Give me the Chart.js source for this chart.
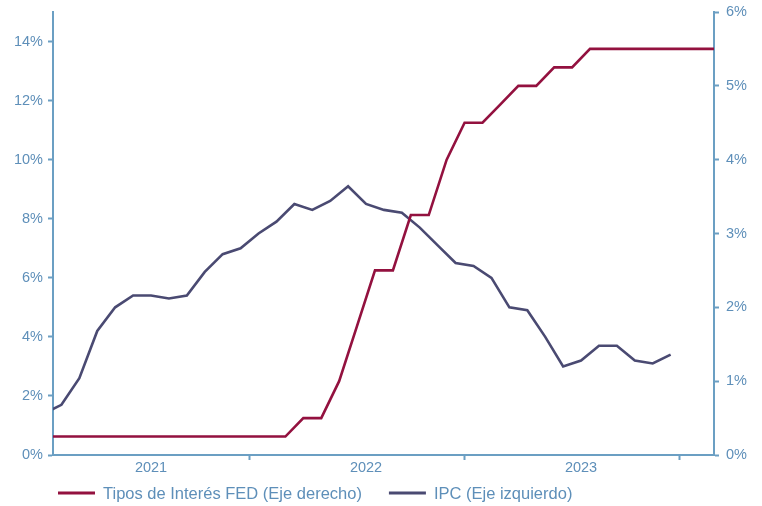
<!DOCTYPE html>
<html>
<head>
<meta charset="utf-8">
<script src="https://cdn.jsdelivr.net/npm/chart.js@4.4.1/dist/chart.umd.min.js"></script>
<style>
html,body{margin:0;padding:0;background:#ffffff;}
#wrap{width:762px;height:506px;position:relative;}
</style>
</head>
<body>
<div id="wrap"><canvas id="c" width="762" height="506"></canvas></div>
<script>
// ---- Data (monthly, Jan 2021 onward) ----
const months = [
  '2021-01','2021-02','2021-03','2021-04','2021-05','2021-06','2021-07','2021-08','2021-09','2021-10','2021-11','2021-12',
  '2022-01','2022-02','2022-03','2022-04','2022-05','2022-06','2022-07','2022-08','2022-09','2022-10','2022-11','2022-12',
  '2023-01','2023-02','2023-03','2023-04','2023-05','2023-06','2023-07','2023-08','2023-09','2023-10','2023-11','2023-12',
  '2024-01','2024-02'
];
// IPC (left axis, %), Jan 2021 - Dec 2023
const ipcValues = [
  1.4, 1.7, 2.6, 4.2, 5.0, 5.4, 5.4, 5.3, 5.4, 6.2, 6.8, 7.0,
  7.5, 7.9, 8.5, 8.3, 8.6, 9.1, 8.5, 8.3, 8.2, 7.7, 7.1, 6.5,
  6.4, 6.0, 5.0, 4.9, 4.0, 3.0, 3.2, 3.7, 3.7, 3.2, 3.1, 3.4
];
// Tipos FED (right axis, %), month-end, Jan 2021 - Feb 2024
const fedValues = [
  0.25, 0.25, 0.25, 0.25, 0.25, 0.25, 0.25, 0.25, 0.25, 0.25, 0.25, 0.25,
  0.25, 0.25, 0.5, 0.5, 1.0, 1.75, 2.5, 2.5, 3.25, 3.25, 4.0, 4.5,
  4.5, 4.75, 5.0, 5.0, 5.25, 5.25, 5.5, 5.5, 5.5, 5.5, 5.5, 5.5,
  5.5, 5.5
];
const years = ['2021', '2022', '2023'];
const leftTickValues = [0, 2, 4, 6, 8, 10, 12, 14];
const rightTickValues = [0, 1, 2, 3, 4, 5, 6];
const fedLabel = 'Tipos de Interés FED (Eje derecho)';
const ipcLabel = 'IPC (Eje izquierdo)';

// ---- Styles ----
const axisColor = '#6b9fc3';
const textColor = '#5e8fb9';
const fedColor = '#93113f';
const ipcColor = '#4a4a72';
const fontFamily = '"Liberation Sans", Arial, sans-serif';

// month index: mid-month for IPC, month-end for FED
const ipcPoints = ipcValues.map((v, i) => ({ x: i, y: v }));
const fedPoints = fedValues.map((v, i) => ({ x: i + 0.5, y: v }));

const yearTicks = [];
years.forEach((y, k) => {
  yearTicks.push({ value: 12 * k + 6 });      // label position (mid-year)
  yearTicks.push({ value: 12 * k + 11.5 });   // year boundary tick
});

const bottomLegend = {
  id: 'bottomLegend',
  afterDraw(chart, args, opts) {
    const ctx = chart.ctx;
    ctx.save();
    ctx.font = opts.fontSize + 'px ' + fontFamily;
    ctx.textBaseline = 'middle';
    ctx.textAlign = 'left';
    let x = opts.x;
    const y = opts.y;
    chart.data.datasets.forEach(ds => {
      ctx.strokeStyle = ds.borderColor;
      ctx.lineWidth = 3;
      ctx.beginPath();
      ctx.moveTo(x, y);
      ctx.lineTo(x + opts.boxWidth, y);
      ctx.stroke();
      const tx = x + opts.boxWidth + opts.textGap;
      ctx.fillStyle = textColor;
      ctx.fillText(ds.label, tx, y + 1);
      x = tx + ctx.measureText(ds.label).width + opts.itemGap;
    });
    ctx.restore();
  }
};

const noPadV = (w) => (scale) => { scale.width = w; scale.paddingTop = 0; scale.paddingBottom = 0; };

new Chart(document.getElementById('c'), {
  type: 'line',
  data: {
    datasets: [
      {
        label: fedLabel,
        data: fedPoints,
        yAxisID: 'yR',
        borderColor: fedColor,
        backgroundColor: fedColor,
        borderWidth: 2.6,
        pointRadius: 0,
        tension: 0,
        clip: 0
      },
      {
        label: ipcLabel,
        data: ipcPoints,
        yAxisID: 'yL',
        borderColor: ipcColor,
        backgroundColor: ipcColor,
        borderWidth: 2.6,
        pointRadius: 0,
        tension: 0,
        clip: 0
      }
    ]
  },
  options: {
    responsive: false,
    animation: false,
    devicePixelRatio: 1,
    layout: { padding: { top: 12, bottom: 26, left: 0, right: 0 } },
    plugins: {
      legend: { display: false },
      tooltip: { enabled: false },
      bottomLegend: { x: 58, y: 493, boxWidth: 37, textGap: 8, itemGap: 27, fontSize: 16.5 }
    },
    scales: {
      x: {
        type: 'linear',
        min: 0.53,
        max: 37.42,
        afterBuildTicks: (scale) => { scale.ticks = yearTicks.map(t => ({ value: t.value })); },
        afterFit: (scale) => { scale.height = 25; scale.paddingLeft = 0; scale.paddingRight = 0; },
        ticks: {
          autoSkip: false,
          maxRotation: 0,
          padding: -1,
          color: textColor,
          font: { family: fontFamily, size: 14.5 },
          callback: (value) => {
            const k = years.findIndex((y, i) => 12 * i + 6 === value);
            return k >= 0 ? years[k] : '';
          }
        },
        grid: {
          drawOnChartArea: false,
          drawTicks: true,
          tickLength: 5,
          tickWidth: 2,
          color: axisColor,
          tickColor: (ctx) => (ctx.tick && Number.isInteger(ctx.tick.value)) ? 'rgba(0,0,0,0)' : axisColor
        },
        border: { display: true, color: axisColor, width: 2 }
      },
      yL: {
        type: 'linear',
        position: 'left',
        min: 0,
        max: 15,
        afterBuildTicks: (scale) => { scale.ticks = leftTickValues.map(v => ({ value: v })); },
        afterFit: noPadV(53),
        ticks: {
          padding: 5,
          color: textColor,
          font: { family: fontFamily, size: 14.5 },
          callback: (v) => v + '%'
        },
        grid: {
          drawOnChartArea: false,
          drawTicks: true,
          tickLength: 5,
          tickWidth: 2,
          color: axisColor
        },
        border: { display: true, color: axisColor, width: 2 }
      },
      yR: {
        type: 'linear',
        position: 'right',
        min: 0,
        max: 6,
        afterBuildTicks: (scale) => { scale.ticks = rightTickValues.map(v => ({ value: v })); },
        afterFit: noPadV(48),
        ticks: {
          padding: 7,
          color: textColor,
          font: { family: fontFamily, size: 14.5 },
          callback: (v) => v + '%'
        },
        grid: {
          drawOnChartArea: false,
          drawTicks: true,
          tickLength: 5,
          tickWidth: 2,
          color: axisColor
        },
        border: { display: true, color: axisColor, width: 2 }
      }
    }
  },
  plugins: [bottomLegend]
});
</script>
</body>
</html>
